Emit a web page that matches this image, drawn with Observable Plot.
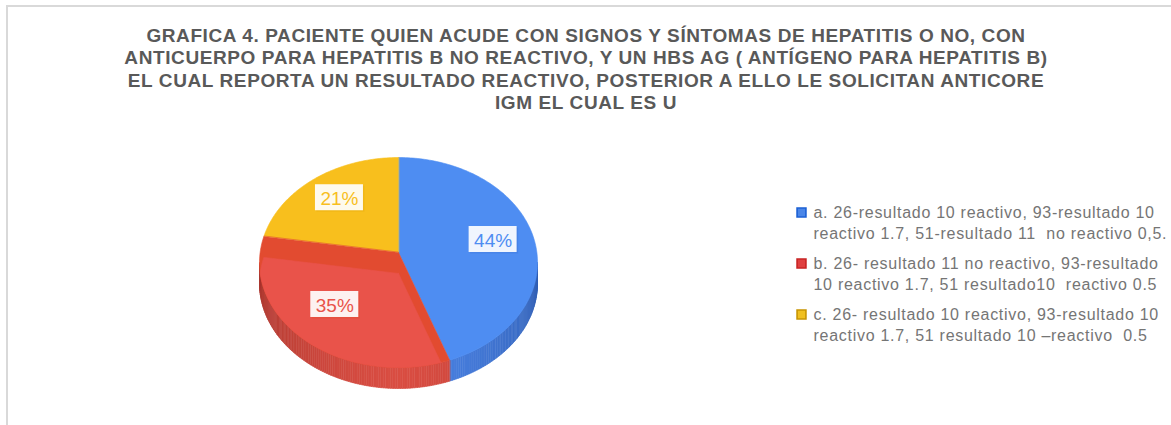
<!DOCTYPE html>
<html><head><meta charset="utf-8">
<script src="https://cdn.jsdelivr.net/npm/d3@7"></script>
<script src="https://cdn.jsdelivr.net/npm/@observablehq/plot@0.6"></script>
<style>
body{margin:0;background:#fff;}
#wrap{position:relative;width:1171px;height:425px;overflow:hidden;}
#border{position:absolute;left:6px;top:5px;width:1200px;height:500px;border-top:2px solid #d9d9d9;border-left:2px solid #d9d9d9;pointer-events:none;}
svg{display:block;}
</style></head><body><div id="wrap"><div id="chart"></div><div id="border"></div></div>
<script>
// ---- data ----
const titleLines = [
  "GRAFICA 4. PACIENTE QUIEN ACUDE CON SIGNOS Y SÍNTOMAS DE HEPATITIS O NO, CON",
  "ANTICUERPO PARA HEPATITIS B NO REACTIVO, Y UN HBS AG ( ANTÍGENO PARA HEPATITIS B)",
  "EL CUAL REPORTA UN RESULTADO REACTIVO, POSTERIOR A ELLO LE SOLICITAN ANTICORE",
  "IGM EL CUAL ES U"
];
const categories = ["a", "b", "c"];
const legendLine1 = [
  "a. 26-resultado 10 reactivo, 93-resultado 10",
  "b. 26- resultado 11 no reactivo, 93-resultado",
  "c. 26- resultado 10 reactivo, 93-resultado 10"
];
const legendLine2 = [
  "reactivo 1.7, 51-resultado 11\u00a0 no reactivo 0,5.",
  "10 reactivo 1.7, 51 resultado10\u00a0 reactivo 0.5",
  "reactivo 1.7, 51 resultado 10 \u2013reactivo\u00a0 0.5"
];
const values = [44, 35, 21];
const pctLabels = ["44%", "35%", "21%"];
const topColors = ["#4e8df2", "#e9534a", "#f8bf1d"];
const bandColors = ["#3f78dc", "#e24b30", "#e8ad12"];
const sideLight = ["#4b83e4", "#d94d42", "#e0a812"];
const sideDark = ["#2f5cb0", "#a9372f", "#b08208"];
const legendFill = ["#4a86e8", "#e04040", "#f0c020"];
const legendStroke = ["#1a5fd4", "#c82222", "#c79400"];

// ---- layout ----
const W = 1171, H = 425;
const cx = 398, cy = 262, rx = 139, ry = 105, apexDy = -10, depth = 21;
const P = (t, lvl = 0) => [cx + rx * Math.sin(t), cy - ry * Math.cos(t) + lvl];
const apex = (lvl = 0) => [cx, cy + apexDy + lvl];
const clipE = ([x, y]) => {
  const u = (x - cx) / rx, v = (y - cy) / ry, r = Math.hypot(u, v);
  return r > 1 ? [cx + u / r * rx, cy + v / r * ry] : [x, y];
};
const arcPts = (a, b, lvl = 0) => {
  const n = Math.max(2, Math.ceil(Math.abs(b - a) / (Math.PI / 180)));
  return d3.range(n + 1).map(i => P(a + (b - a) * i / n, lvl));
};
const seg = (p, q, n = 30) => d3.range(n + 1).map(i => [p[0] + (q[0] - p[0]) * i / n, p[1] + (q[1] - p[1]) * i / n]);

const arcs = d3.pie().sort(null).value(d => d)(values);

const sides = [], tops = [], bands = [], faces = [];
arcs.forEach((s, k) => {
  const a = s.startAngle, b = s.endAngle;
  const lo = Math.max(a, Math.PI / 2), hi = Math.min(b, 3 * Math.PI / 2);
  if (lo < hi) {
    const n = Math.ceil((hi - lo) / (Math.PI / 180));
    for (let i = 0; i < n; i++) {
      const t0 = lo + (hi - lo) * i / n, t1 = lo + (hi - lo) * (i + 1) / n;
      const tm = (t0 + t1) / 2;
      const f = Math.min(1, Math.abs(tm - Math.PI) / (Math.PI / 2));
      const col = d3.interpolateRgb(sideLight[k], sideDark[k])(Math.pow(f, 1.3));
      const id = `s${k}-${i}`;
      [P(t0), P(t1), P(t1, depth), P(t0, depth)].forEach(([x, y]) => sides.push({id, x, y, fill: col}));
    }
  }
  if (k === 1) {
    [apex(), ...arcPts(a, b)].forEach(([x, y]) => bands.push({id: `b${k}`, x, y, fill: bandColors[k]}));
    const pts = [
      ...seg(apex(depth), P(a, depth)),
      ...arcPts(a, b, depth),
      ...seg(P(b, depth), apex(depth))
    ].map(clipE);
    pts.forEach(([x, y]) => faces.push({id: `f${k}`, x, y, fill: topColors[k]}));
  } else {
    [apex(), ...arcPts(a, b)].forEach(([x, y]) => tops.push({id: `t${k}`, x, y, fill: topColors[k]}));
  }
});

const labelK = 0.66;
const labels = arcs.map((s, k) => {
  const m = (s.startAngle + s.endAngle) / 2;
  const [ax, ay] = apex();
  return {
    x: ax + labelK * rx * Math.sin(m) * 1.05,
    y: ay - labelK * ry * Math.cos(m),
    text: pctLabels[k], color: topColors[k], shadow: bandColors[k]
  };
});

const legendX = 813, legendTop = 212, legendStep = 51, lineStep = 21;
const legend = categories.map((c, i) => ({
  i, y1: legendTop + i * legendStep, y2: legendTop + i * legendStep + lineStep,
  l1: legendLine1[i], l2: legendLine2[i], fill: legendFill[i], stroke: legendStroke[i]
}));

const poly = (data) => Plot.line(data, {x: "x", y: "y", z: "id", fill: "fill", stroke: "fill", strokeWidth: 0.6, curve: "linear-closed"});

const font = "'Liberation Sans', Arial, sans-serif";
const chart = Plot.plot({
  width: W, height: H,
  margin: 0,
  x: {domain: [0, W], range: [0, W], axis: null},
  y: {domain: [0, H], range: [0, H], axis: null},
  color: {type: "identity"},
  style: {fontFamily: font, background: "transparent"},
  marks: [
    poly(sides),
    poly(tops),
    poly(bands),
    poly(faces),
    Plot.rect(labels, {x1: d => d.x - 24 + 1.5, x2: d => d.x + 24 + 1.5, y1: d => d.y - 13 + 1.5, y2: d => d.y + 13 + 1.5, fill: "shadow", fillOpacity: 0.45}),
    Plot.rect(labels, {x1: d => d.x - 24, x2: d => d.x + 24, y1: d => d.y - 13, y2: d => d.y + 13, fill: "#ffffff", fillOpacity: 0.92}),
    Plot.text(labels, {x: "x", y: "y", text: "text", fill: "color", fontSize: 19, dy: 1}),
    Plot.text([titleLines.join("\n")], {frameAnchor: "top", dy: 25, lineAnchor: "top", lineHeight: 1.19, fontSize: 19, fontWeight: "bold", fill: "#595959"}),
    Plot.dot(legend, {x: () => 801, y: "y1", symbol: "square", r: 5, fill: "fill", stroke: "stroke", strokeWidth: 1.6}),
    Plot.text(legend, {x: () => legendX, y: "y1", text: "l1", textAnchor: "start", fontSize: 16, fill: "#757575"}),
    Plot.text(legend, {x: () => legendX, y: "y2", text: "l2", textAnchor: "start", fontSize: 16, fill: "#757575"})
  ]
});
// letter spacing to match the reference's wide text rendering
d3.select(chart).selectAll("g").each(function() {
  const el = d3.select(this);
  if (el.attr("font-weight") === "bold") el.style("letter-spacing", "0.6px");
  else if (el.attr("fill") === "#757575") el.style("letter-spacing", "0.72px");
});
document.getElementById("chart").appendChild(chart);
</script>
</body></html>
